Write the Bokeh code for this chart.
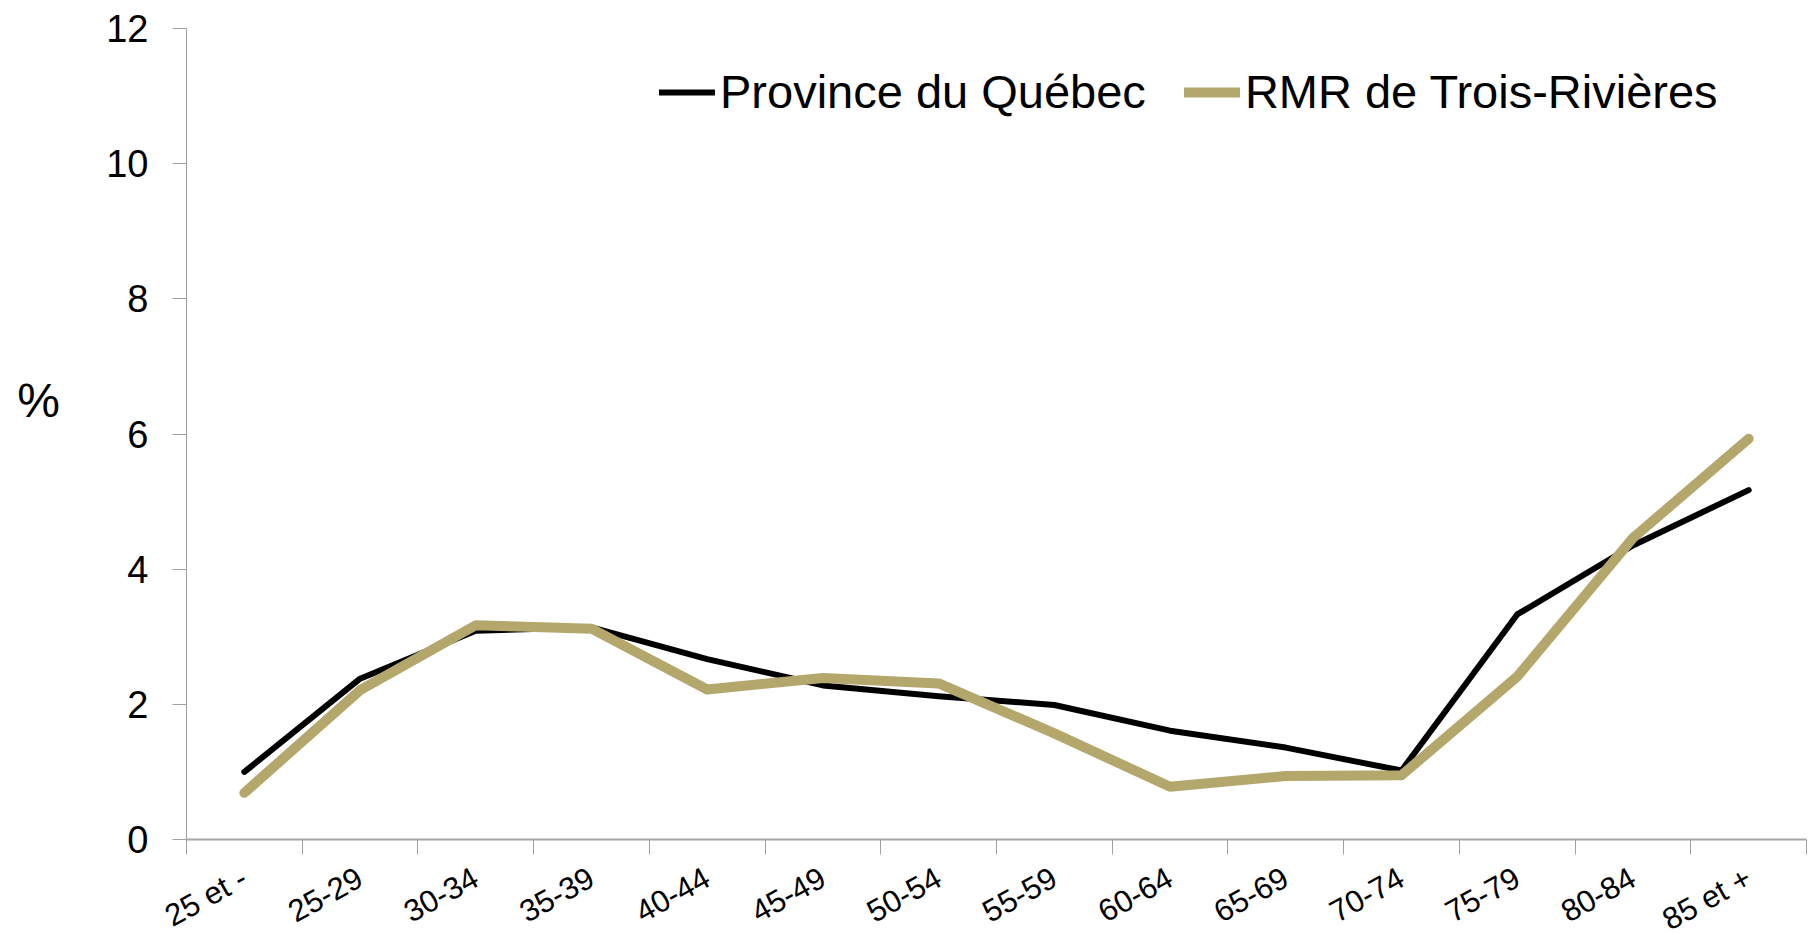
from bokeh.plotting import figure
from bokeh.models import Range1d, FixedTicker, Legend, Label
from bokeh.embed import file_html
from bokeh.resources import INLINE
import math

categories = ["25 et -", "25-29", "30-34", "35-39", "40-44", "45-49", "50-54",
              "55-59", "60-64", "65-69", "70-74", "75-79", "80-84", "85 et +"]
quebec = [1.0, 2.38, 3.09, 3.14, 2.67, 2.28, 2.12, 1.99, 1.61, 1.36, 1.02, 3.33, 4.35, 5.17]
trois_rivieres = [0.69, 2.21, 3.17, 3.12, 2.22, 2.39, 2.31, 1.57, 0.78, 0.94, 0.95, 2.41, 4.46, 5.93]
y_ticks = [0, 2, 4, 6, 8, 10, 12]
series_names = ["Province du Québec", "RMR de Trois-Rivières"]

FONT = "Liberation Sans"
n = len(categories)
xs = [i + 0.5 for i in range(n)]

# Canvas geometry (pixels): plot area from x=186..1806, y=28..839
W, H = 1808, 934
LEFT, RIGHT, TOP, BOTTOM = 186, 1806, 28, 839
px_x = (RIGHT - LEFT) / n
px_y = (BOTTOM - TOP) / 12.0
x_range = Range1d(-LEFT / px_x, n + (W - RIGHT) / px_x)
y_range = Range1d(-(H - BOTTOM) / px_y, 12 + TOP / px_y)

p = figure(width=W, height=H, output_backend="svg", toolbar_location=None,
           x_range=x_range, y_range=y_range, min_border=0)
p.outline_line_color = None
p.grid.visible = False
p.background_fill_color = "white"
p.border_fill_color = "white"

r1 = p.line(xs, quebec, line_color="black", line_width=6, line_cap="round", line_join="round")
r2 = p.line(xs, trois_rivieres, line_color="#B4A76C", line_width=10, line_cap="round", line_join="round")

# x axis: labels at category centres, tick marks at category boundaries
xa = p.xaxis[0]
xa.fixed_location = 0
xa.bounds = (0, n)
xa.ticker = FixedTicker(ticks=xs, minor_ticks=list(range(n + 1)))
xa.major_label_overrides = {x: c for x, c in zip(xs, categories)}
xa.major_tick_out = 0
xa.major_tick_in = 0
xa.minor_tick_out = 15
xa.minor_tick_in = 0
xa.minor_tick_line_color = "#A0A0A0"
xa.axis_line_color = "#A6A6A6"
xa.axis_line_width = 2
xa.major_label_orientation = math.radians(29)
xa.major_label_text_font = FONT
xa.major_label_text_font_size = "31px"
xa.major_label_text_color = "black"
xa.major_label_standoff = 21

ya = p.yaxis[0]
ya.fixed_location = 0
ya.bounds = (0, 12)
ya.ticker = FixedTicker(ticks=y_ticks, minor_ticks=[])
ya.major_tick_out = 14
ya.major_tick_in = 0
ya.major_tick_line_color = "#A0A0A0"
ya.axis_line_color = "#A0A0A0"
ya.axis_line_width = 1
ya.major_label_text_font = FONT
ya.major_label_text_font_size = "38px"
ya.major_label_text_color = "black"
ya.major_label_standoff = 24

p.add_layout(Label(x=(38 - LEFT) / px_x, y=6.49, text="%",
                   text_align="center", text_baseline="middle",
                   text_font=FONT, text_font_size="48px", text_color="black"))

legend = Legend(items=[(series_names[0], [r1]), (series_names[1], [r2])],
                orientation="horizontal", location=(659, 815),
                border_line_color=None, background_fill_alpha=0,
                padding=0, margin=0, spacing=38,
                glyph_width=56, glyph_height=50, label_height=50, label_standoff=5,
                label_text_font=FONT, label_text_font_size="47px", label_text_color="black")
p.add_layout(legend)

open("out.html", "w").write(file_html(p, INLINE))
